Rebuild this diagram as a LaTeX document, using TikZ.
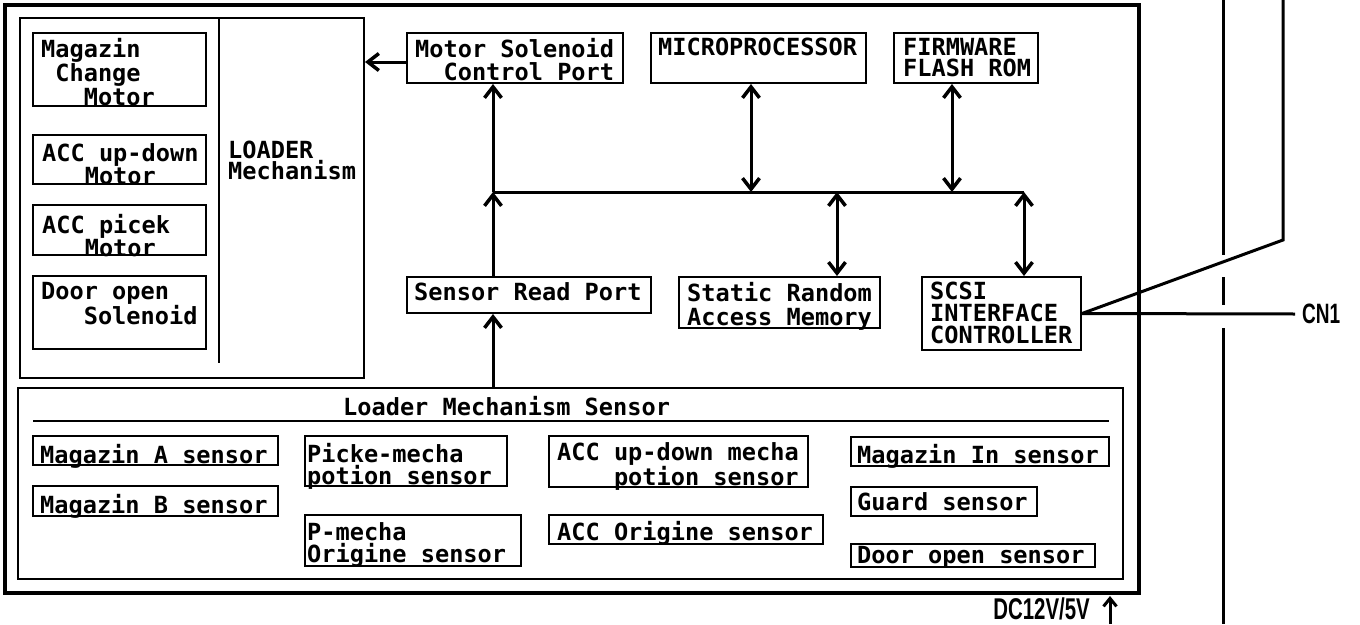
\documentclass[tikz,border=0pt]{standalone}
\usepackage{fontspec}
\usepackage{graphicx}
\usetikzlibrary{arrows.meta,fit}
\newfontfamily\dvm{DejaVu Sans Mono}
\newfontfamily\narrowsans{Liberation Sans}[FakeStretch=0.68]
\begin{document}
\begin{tikzpicture}[x=1pt,y=-1pt,
  box/.style={draw,line width=2pt,inner sep=0pt,rectangle},
  txt/.style={anchor=north west,inner sep=0pt,align=left,font=\dvm\bfseries\fontsize{23.6}{22}\selectfont},
  lsp/.style={font=\dvm\bfseries\fontsize{23.6}{#1}\selectfont},
  wire/.style={line width=3pt},
  tip/.tip={Straight Barb[length=11pt,width=17pt,line width=3.5pt]},
  arr/.style={wire,-tip},
  darr/.style={wire,tip-tip}]
\useasboundingbox (0,0) rectangle (1360,624);
% frames
\node[box,line width=4pt,fit={(5,5) (1139,593)}] (Outer) {};
\node[box,fit={(20,18) (364,378)}] (Loader) {};
\coordinate (dv0) at (219,18); \coordinate (dv1) at (219,363);
\draw[line width=2pt] (dv0) -- (dv1);
% loader items
\node[box,fit={(33,33) (206,106)}] (MCM) {};
\node[box,fit={(33,135) (206,184)}] (ACCud) {};
\node[box,fit={(33,205) (206,255)}] (ACCp) {};
\node[box,fit={(33,276) (206,349)}] (DoorSol) {};
\node[txt,lsp=24] (tMCM) at (41,38) {Magazin\\\hspace*{14.2pt}Change\\\hspace*{42.6pt}Motor};
\node[txt,lsp=20] (tACCud) at (42,143) {ACC up-down\\\hspace*{42.6pt}Motor};
\node[txt,lsp=20] (tACCp) at (42,214) {ACC picek\\\hspace*{42.6pt}Motor};
\node[txt,lsp=22] (tDoorSol) at (41,282) {Door open\\\hspace*{42.6pt}Solenoid};
\node[txt,lsp=21] (tLoader) at (228,141) {LOADER\\Mechanism};
% upper blocks
\node[box,fit={(407,33) (623,83)}] (MSCP) {};
\node[box,fit={(651,33) (866,83)}] (MICRO) {};
\node[box,fit={(894,33) (1038,83)}] (FW) {};
\node[box,fit={(407,277) (651,313)}] (SRP) {};
\node[box,fit={(679,277) (880,328)}] (SRAM) {};
\node[box,fit={(922,277) (1081,350)}] (SCSI) {};
\node[txt,lsp=23] (tMSCP) at (415,38) {Motor Solenoid\\\hspace*{28.4pt}Control Port};
\node[txt] (tMICRO) at (658,38) {MICROPROCESSOR};
\node[txt,lsp=21] (tFW) at (903,38) {FIRMWARE\\FLASH ROM};
\node[txt] (tSRP) at (414,282) {Sensor Read Port};
\node[txt,lsp=24] (tSRAM) at (687,282) {Static Random\\Access Memory};
\node[txt,lsp=22] (tSCSI) at (930,282) {SCSI\\INTERFACE\\CONTROLLER};
% sensor block
\node[box,fit={(18,388) (1123,579)}] (Sensor) {};
\node[txt] (tSensor) at (343,396) {Loader Mechanism Sensor};
\coordinate (s0) at (33,421); \coordinate (s1) at (1109,421);
\draw[line width=2pt] (s0) -- (s1);
\node[box,fit={(33,436) (278,465)}] (MagA) {};
\node[box,fit={(33,486) (278,516)}] (MagB) {};
\node[box,fit={(305,436) (507,486)}] (Picke) {};
\node[box,fit={(305,515) (521,566)}] (Pmecha) {};
\node[box,fit={(549,436) (808,487)}] (ACCudS) {};
\node[box,fit={(549,515) (823,544)}] (ACCOr) {};
\node[box,fit={(851,437) (1109,466)}] (MagIn) {};
\node[box,fit={(851,487) (1037,516)}] (Guard) {};
\node[box,fit={(851,544) (1095,567)}] (DoorS) {};
\node[txt] (tMagA) at (40,444) {Magazin A sensor};
\node[txt] (tMagB) at (40,494) {Magazin B sensor};
\node[txt,lsp=22] (tPicke) at (307,443) {Picke-mecha\\potion sensor};
\node[txt,lsp=22] (tPmecha) at (307,522) {P-mecha\\Origine sensor};
\node[txt,lsp=20] (tACCudS) at (557,442) {ACC up-down mecha\\\hspace*{56.8pt}potion sensor};
\node[txt] (tACCOr) at (557,521) {ACC Origine sensor};
\node[txt] (tMagIn) at (857,444) {Magazin In sensor};
\node[txt] (tGuard) at (857,492) {Guard sensor};
\node[txt] (tDoorS) at (857,546) {Door open sensor};
% bus and arrows
\coordinate (busL) at (493,192);
\coordinate (busR) at (1024,192);
\coordinate (bm) at (751,192);
\coordinate (bs) at (837,192);
\coordinate (bf) at (952,192);
\draw[wire] (busL) -- (busR);
\draw[arr] ([yshift=-4pt]MSCP.west) -- ([yshift=-4pt]MSCP.west -| Loader.east);
\draw[arr] (SRP.north -| busL) -- (busL);
\draw[arr] (busL) -- (MSCP.south -| busL);
\draw[darr] (MICRO.south -| bm) -- (bm);
\draw[darr] (FW.south -| bf) -- (bf);
\draw[darr] (bs) -- (SRAM.north -| bs);
\draw[darr] (busR) -- (SCSI.north -| busR);
\draw[arr] (Sensor.north -| busL) -- (SRP.south -| busL);
% power
\coordinate (pw) at (1110,624);
\coordinate (pwt) at (1110,596);
\draw[wire,-{Straight Barb[length=8pt,width=13pt,line width=3pt]}] (pw) -- (pwt);
\node[anchor=east,inner sep=0pt,font=\narrowsans\bfseries\fontsize{30}{30}\selectfont] (DC) at (1090,609) {DC12V/5V};
% right side
\coordinate (d0) at (1223,0); \coordinate (d1) at (1223,624);
\draw[wire,dash pattern=on 255pt off 22pt on 28pt off 23pt on 400pt] (d0) -- (d1);
\coordinate (r0) at (1283,0); \coordinate (r1) at (1283,240);
\draw[wire] (r0) -- (r1) -- (SCSI.east);
\node[anchor=west,inner sep=0pt,font=\narrowsans\bfseries\fontsize{28}{28}\selectfont] (CN1) at (1302,314) {CN1};
\draw[wire] (SCSI.east) -- ([xshift=-7pt]CN1.west);
\end{tikzpicture}
\end{document}
